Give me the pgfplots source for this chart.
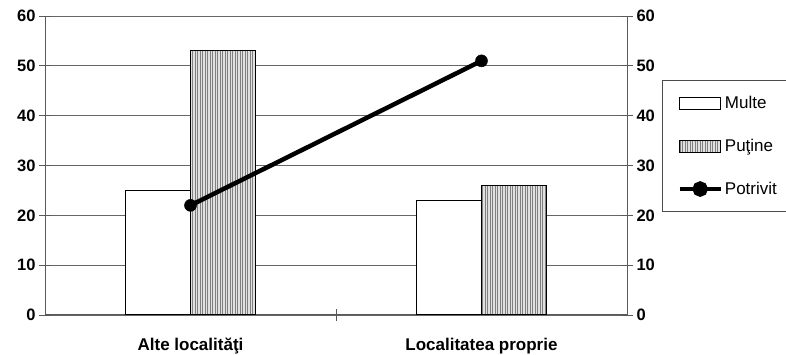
\documentclass[border=0pt]{standalone}
\usepackage{fontspec}
\setmainfont{Liberation Sans}
\usepackage{pgfplots}
\pgfplotsset{compat=1.18}
\usetikzlibrary{patterns.meta}
\begin{document}
\begin{tikzpicture}[x=1pt,y=1pt]
\path[use as bounding box] (0,0) rectangle (786,355);
\begin{axis}[
  at={(45pt,40pt)}, anchor=south west,
  width=582pt, height=299pt, scale only axis,
  xmin=-0.5, xmax=1.5, ymin=0, ymax=60,
  /pgf/number format/assume math mode=true,
  axis y line*=left, axis x line*=bottom,
  axis line style={black!65, line width=1pt, -},
  xtick={0.5}, xticklabels={},
  extra x ticks={0,1},
  extra x tick labels={Alte localităţi, Localitatea proprie},
  extra x tick style={major tick length=0pt, grid=none,
    tick label style={font=\bfseries\fontsize{17}{20}\selectfont, yshift=-19pt,
      text height=13pt, text depth=4pt}},
  ytick={0,10,...,60},
  ymajorgrids, grid style={black!60, line width=0.8pt},
  tick align=center, major tick length=12pt,
  tick style={black!65, line width=0.8pt},
  yticklabel style={font=\bfseries\fontsize{16.5}{20}\selectfont},
  legend style={at={(1.06,0.786)}, anchor=north west, draw=black!70, line width=1pt,
    font=\fontsize{17}{20}\selectfont, inner xsep=15pt, inner ysep=14pt, row sep=25pt,
    legend cell align=left},
]
\addplot[ybar, bar width=0.2234, bar shift=-0.1117, fill=white, draw=black, line width=1pt,
  legend image code/.code={\draw[fill=white,draw=black,line width=1pt] (0pt,-6pt) rectangle (41pt,6pt);}]
  coordinates {(0,25) (1,23)};
\addlegendentry{Multe}
\addplot[ybar, bar width=0.2234, bar shift=0.1117, draw=black, line width=1pt,
  preaction={fill=black!12},
  pattern={Lines[angle=90, distance=2.5pt, line width=1pt]}, pattern color=black!50,
  legend image code/.code={\draw[preaction={fill=black!12},pattern={Lines[angle=90, distance=2.5pt, line width=1pt]}, pattern color=black!50,draw=black,line width=1pt] (0pt,-6pt) rectangle (41pt,6pt);}]
  coordinates {(0,53) (1,26)};
\addlegendentry{Puţine}
\addplot[black, line width=4.5pt, mark=*, mark size=6pt, mark options={solid, fill=black, line width=0.5pt},
  legend image code/.code={\draw[black,line width=4.5pt] (0pt,0pt) -- (41pt,0pt); \fill[black] (20.5pt,0pt) circle (5.5pt);}]
  coordinates {(0,22) (1,51)};
\addlegendentry{Potrivit}
\end{axis}
\begin{axis}[
  at={(45pt,40pt)}, anchor=south west,
  width=582pt, height=299pt, scale only axis,
  xmin=-0.5, xmax=1.5, ymin=0, ymax=60,
  /pgf/number format/assume math mode=true,
  axis y line*=right, axis x line=none,
  axis line style={black!65, line width=1pt, -},
  ytick={0,10,...,60},
  tick align=center, major tick length=12pt,
  tick style={black!65, line width=0.8pt},
  yticklabel style={font=\bfseries\fontsize{16.5}{20}\selectfont},
]
\addplot[draw=none] coordinates {(0,0)};
\end{axis}
\end{tikzpicture}
\end{document}
